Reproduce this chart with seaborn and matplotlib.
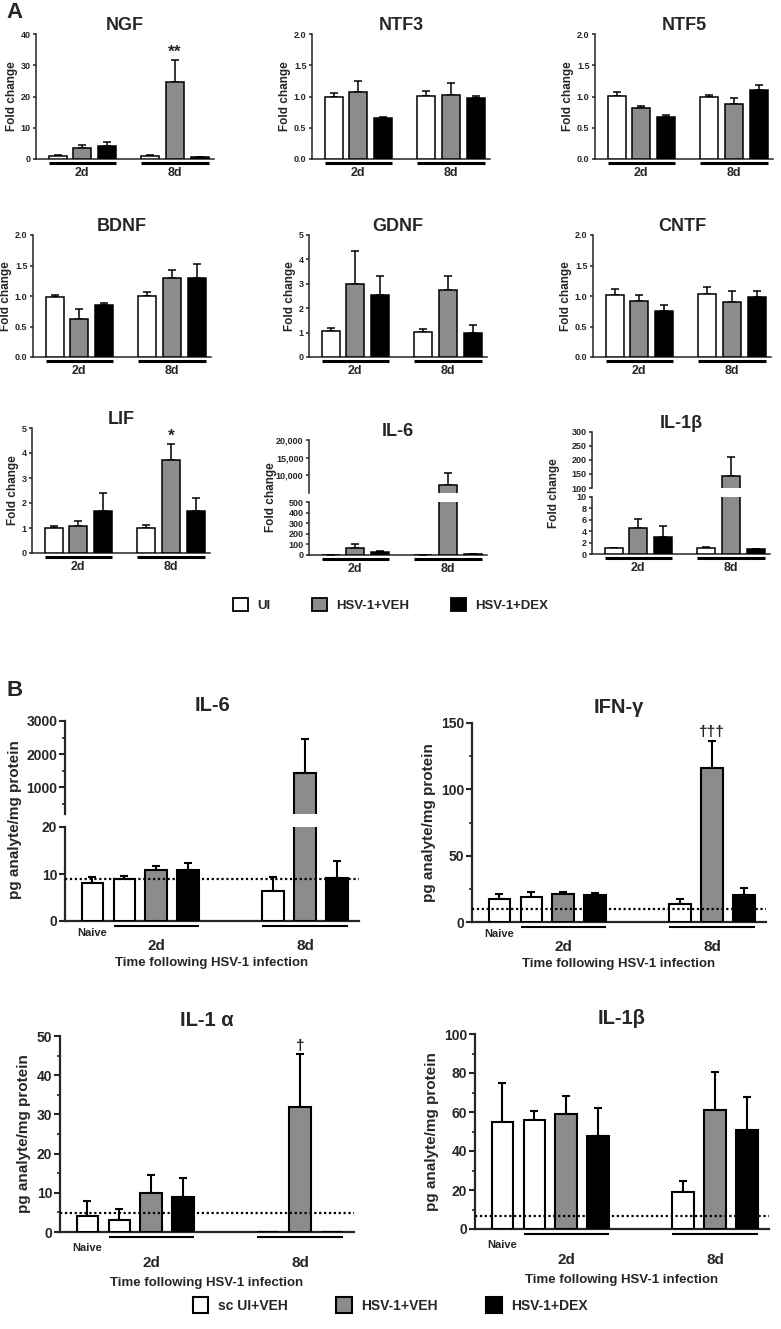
import numpy as np
import pandas as pd
import matplotlib
matplotlib.use('Agg')
import matplotlib.pyplot as plt
import matplotlib.transforms as mtransforms
from matplotlib.patches import Patch
from matplotlib import font_manager
import seaborn as sns

sns.set_style('ticks')
plt.rcParams['font.family'] = ['Liberation Sans', 'DejaVu Sans']
plt.rcParams['font.weight'] = 'bold'
names = {f.name for f in font_manager.fontManager.ttflist}
narrow = 'Liberation Sans Narrow' if 'Liberation Sans Narrow' in names else 'Liberation Sans'

# ---------------- data ----------------
# panel A, order: 2d UI, 2d VEH, 2d DEX, 8d UI, 8d VEH, 8d DEX
groups_a = ['UI', 'HSV-1+VEH', 'HSV-1+DEX']
days = ['2d', '8d']

ngf_mean = [1.1, 3.5, 4.3, 1.1, 24.8, 0.5]
ngf_sem = [0.15, 1.0, 1.3, 0.2, 6.9, 0.15]
ntf3_mean = [1.0, 1.08, 0.66, 1.01, 1.02, 0.97]
ntf3_sem = [0.06, 0.17, 0.01, 0.08, 0.19, 0.04]
ntf5_mean = [1.01, 0.82, 0.67, 1.0, 0.875, 1.10]
ntf5_sem = [0.07, 0.03, 0.04, 0.03, 0.095, 0.08]
bdnf_mean = [0.99, 0.63, 0.85, 1.0, 1.30, 1.29]
bdnf_sem = [0.03, 0.15, 0.03, 0.06, 0.12, 0.23]
gdnf_mean = [1.07, 3.0, 2.53, 1.04, 2.73, 1.0]
gdnf_sem = [0.13, 1.33, 0.8, 0.12, 0.6, 0.3]
cntf_mean = [1.02, 0.91, 0.76, 1.04, 0.9, 0.98]
cntf_sem = [0.1, 0.11, 0.1, 0.1, 0.19, 0.11]
lif_mean = [1.0, 1.1, 1.7, 1.02, 3.71, 1.68]
lif_sem = [0.07, 0.19, 0.69, 0.11, 0.64, 0.51]
il6a_mean = [1.0, 63, 25, 1.0, 7300, 5]
il6a_sem = [0.3, 37, 13, 0.3, 3500, 2]
il1ba_mean = [1.0, 4.5, 2.9, 1.1, 143, 0.8]
il1ba_sem = [0.1, 1.7, 2.0, 0.15, 68, 0.1]

# panel B, order: Naive, 2d UI, 2d VEH, 2d DEX, 8d UI, 8d VEH, 8d DEX
groups_b = ['sc UI+VEH', 'HSV-1+VEH', 'HSV-1+DEX']
b_group = ['sc UI+VEH', 'sc UI+VEH', 'HSV-1+VEH', 'HSV-1+DEX', 'sc UI+VEH', 'HSV-1+VEH', 'HSV-1+DEX']
b_day = ['Naive', '2d', '2d', '2d', '8d', '8d', '8d']

il6b_mean = [8.0, 8.9, 10.9, 10.9, 6.45, 1430, 9.1]
il6b_sem = [1.4, 0.7, 0.8, 1.4, 2.95, 1030, 3.7]
ifng_mean = [17.6, 19.1, 21.4, 20.6, 13.3, 115.8, 20.1]
ifng_sem = [3.3, 3.3, 1.2, 1.5, 4.3, 20.9, 5.3]
il1a_mean = [4.0, 3.0, 10.0, 8.9, 0, 31.9, 0]
il1a_sem = [3.9, 2.9, 4.5, 5.0, 0, 13.5, 0]
il1bb_mean = [54.7, 55.8, 58.8, 47.8, 19.2, 60.8, 50.8]
il1bb_sem = [20.0, 4.5, 9.5, 14.4, 5.3, 19.5, 17.0]
# detection limits (dotted lines)
il6b_lod = 9.0
ifng_lod = 9.5
il1a_lod = 4.8
il1bb_lod = 6.5

# ---------------- layout ----------------
colors = ['white', '#8c8c8c', 'black']
b_slot = [0, 1, 2, 3, 5.66, 6.66, 7.66]

W, H = 781, 1329
fig = plt.figure(figsize=(W / 100, H / 100), dpi=100)


def rect(l, t, r, b):
    return [l / W, 1 - b / H, (r - l) / W, (b - t) / H]


def add_errors(ax, xs, tops, errs, lw, cap):
    for x, m, e in zip(xs, tops, errs):
        if e > 0:
            ax.errorbar(x, m, yerr=[[0], [e]], color='black', lw=lw, capsize=cap,
                        capthick=lw, zorder=2)


def underline(ax, spans, dy, lw):
    trans = mtransforms.blended_transform_factory(ax.transData, ax.transAxes)
    y = -dy / ax.bbox.height
    for l, r in spans:
        ax.plot([l, r], [y, y], color='black', lw=lw, transform=trans, clip_on=False,
                solid_capstyle='butt')


def bars_a(ax, mean, sem):
    df = pd.DataFrame({'day': np.repeat(days, 3), 'grp': groups_a * 2, 'val': mean, 'err': sem})
    sns.barplot(data=df, x='day', y='val', hue='grp', hue_order=groups_a, palette=colors,
                width=0.8, gap=0.28, edgecolor='black', linewidth=1.1, errorbar=None,
                legend=False, ax=ax, zorder=3)
    centers = {}
    for cont, g in zip(ax.containers, groups_a):
        sub = df[df.grp == g]
        xs = [b.get_x() + b.get_width() / 2 for b in cont]
        add_errors(ax, xs, sub.val, sub.err, 1.1, 2.8)
        for b, d in zip(cont, sub.day):
            centers.setdefault(d, []).append((b.get_x(), b.get_x() + b.get_width()))
            centers[(d, g)] = (b.get_x() + b.get_width() / 2, b.get_height())
    ax.set_xlim(-0.5, 1.42)
    ax.set_xlabel('')
    ax.set_ylabel('')
    sns.despine(ax=ax)
    for s in ax.spines.values():
        s.set_linewidth(1.1)
    ax.tick_params(axis='y', length=2.5, width=1.1, pad=1.5, labelsize=6.5)
    ax.tick_params(axis='x', length=0, pad=6, labelsize=9)
    spans = [(min(a for a, b in centers[d]), max(b for a, b in centers[d])) for d in days]
    return centers, spans


def a_panel(l, t, b, title, mean, sem, ylim, ticks, mark=None):
    ax = fig.add_axes(rect(l, t, l + 178, b))
    centers, spans = bars_a(ax, mean, sem)
    ax.set_ylim(ylim)
    ax.set_yticks(ticks)
    if isinstance(ticks[1], float):
        ax.set_yticklabels(['%.1f' % v for v in ticks])
    ax.set_title(title, fontsize=13, fontweight='bold', pad=3)
    ax.set_ylabel('Fold change', fontsize=8.5, fontweight='bold', labelpad=2)
    underline(ax, spans, 3.5, 2.2)
    if mark:
        x, h = centers[('8d', 'HSV-1+VEH')]
        top = h + sem[4]
        ax.annotate(mark, (x, top), xytext=(0, 0), textcoords='offset points',
                    ha='center', va='bottom', fontsize=12.5, fontweight='bold')
    return ax


def a_broken(l, tt, bt, tb, bb, title, mean, sem, ylim_t, ticks_t, lab_t, ylim_b, ticks_b, lab_b):
    ax_t = fig.add_axes(rect(l, tt, l + 178, bt))
    ax_b = fig.add_axes(rect(l, tb, l + 178, bb))
    bars_a(ax_t, mean, sem)
    centers, spans = bars_a(ax_b, mean, sem)
    ax_t.spines['bottom'].set_visible(False)
    ax_t.set_xticks([])
    ax_t.set_ylim(ylim_t)
    ax_t.set_yticks(ticks_t, lab_t)
    ax_b.set_ylim(ylim_b)
    ax_b.set_yticks(ticks_b, lab_b)
    ax_t.set_title(title, fontsize=13, fontweight='bold', pad=3)
    underline(ax_b, spans, 3.5, 2.2)
    fig.text((l - 38) / W, 1 - ((tt + bb) / 2) / H, 'Fold change', rotation=90,
             ha='center', va='center', fontsize=8.5, fontweight='bold')
    return ax_t, ax_b


# ---------------- panel A ----------------
fig.text(6 / W, 1 - 12 / H, 'A', fontsize=16, fontweight='bold', va='center')

a_panel(36, 34, 159, 'NGF', ngf_mean, ngf_sem, (0, 40), [0, 10, 20, 30, 40], mark='**')
a_panel(312, 34, 159, 'NTF3', ntf3_mean, ntf3_sem, (0, 2), [0.0, 0.5, 1.0, 1.5, 2.0])
a_panel(595, 34, 159, 'NTF5', ntf5_mean, ntf5_sem, (0, 2), [0.0, 0.5, 1.0, 1.5, 2.0])

a_panel(33, 235, 357, 'BDNF', bdnf_mean, bdnf_sem, (0, 2), [0.0, 0.5, 1.0, 1.5, 2.0])
a_panel(309, 235, 357, 'GDNF', gdnf_mean, gdnf_sem, (0, 5), [0, 1, 2, 3, 4, 5])
a_panel(593, 235, 357, 'CNTF', cntf_mean, cntf_sem, (0, 2), [0.0, 0.5, 1.0, 1.5, 2.0])

a_panel(32, 428, 553, 'LIF', lif_mean, lif_sem, (0, 5), [0, 1, 2, 3, 4, 5], mark='*')
a_broken(309, 440, 493, 502, 555, 'IL-6', il6a_mean, il6a_sem,
         (5000, 20000), [10000, 15000, 20000], ['10,000', '15,000', '20,000'],
         (0, 500), [0, 100, 200, 300, 400, 500], ['0', '100', '200', '300', '400', '500'])
a_broken(592, 432, 488, 497, 554, 'IL-1\u03b2', il1ba_mean, il1ba_sem,
         (100, 300), [100, 150, 200, 250, 300], ['100', '150', '200', '250', '300'],
         (0, 10), [0, 2, 4, 6, 8, 10], ['0', '2', '4', '6', '8', '10'])

fig.legend(handles=[Patch(facecolor=c, edgecolor='black', lw=1.3) for c in colors],
           labels=groups_a, loc='center', bbox_to_anchor=(0.5, 1 - 605 / H), ncol=3,
           frameon=False, handlelength=1.1, handleheight=1.1, columnspacing=3.2,
           handletextpad=0.7, prop=dict(weight='bold', size=9.5))

# ---------------- panel B ----------------
fig.text(6 / W, 1 - 690 / H, 'B', fontsize=16, fontweight='bold', va='center')


def bars_b(ax, mean, sem):
    df = pd.DataFrame({'slot': b_slot, 'grp': b_group, 'day': b_day, 'val': mean, 'err': sem})
    sns.barplot(data=df, x='slot', y='val', hue='grp', hue_order=groups_b, palette=colors,
                native_scale=True, dodge=False, width=0.68, edgecolor='black', linewidth=1.5,
                errorbar=None, legend=False, ax=ax, zorder=3)
    slots = np.array(b_slot)
    spans = {}
    centers = {}
    for p in ax.patches:
        x = p.get_x() + p.get_width() / 2
        i = int(np.argmin(np.abs(slots - x)))
        add_errors(ax, [x], [mean[i]], [sem[i]], 1.5, 3.2)
        d = b_day[i]
        spans.setdefault(d, []).append((p.get_x(), p.get_x() + p.get_width()))
        centers.setdefault(d, []).append(x)
        centers[i] = (x, mean[i])
    ax.set_xlim(-0.86, 8.35)
    ax.set_xlabel('')
    ax.set_ylabel('')
    sns.despine(ax=ax)
    for s in ax.spines.values():
        s.set_linewidth(1.6)
    ax.tick_params(axis='y', which='major', length=4, width=1.5, pad=1.5, labelsize=10)
    ax.tick_params(axis='y', which='minor', length=2.5, width=1.2)
    ax.tick_params(axis='x', length=0, pad=13, labelsize=11)
    return centers, spans


def b_decor(ax, centers, spans, lod, font, gap=0):
    ax.axhline(lod, color='black', ls=(0, (1, 1.2)), lw=1.6, zorder=5)
    sp = [(min(a for a, b in spans[d]), max(b for a, b in spans[d])) for d in ['2d', '8d']]
    underline(ax, sp, 5, 1.5)
    ax.set_xticks([np.mean(centers['2d']), np.mean(centers['8d'])], ['2d', '8d'])
    ax.tick_params(axis='x', pad=13 + gap)
    for t in ax.get_xticklabels():
        t.set_fontfamily(font)
    trans = mtransforms.blended_transform_factory(ax.transData, ax.transAxes)
    ax.text(centers['Naive'][0], -(12 + gap) / ax.bbox.height, 'Naive', transform=trans,
            ha='center', va='center', fontsize=8, fontweight='bold', family=font)
    ax.set_xlabel('Time following HSV-1 infection', fontsize=9.5, fontweight='bold',
                  labelpad=3 + gap / 2, family=font)


def b_panel(l, t, b, title, mean, sem, ylim, ticks, minor, lod, font, mark=None, gap=0):
    ax = fig.add_axes(rect(l, t, l + 294, b))
    centers, spans = bars_b(ax, mean, sem)
    ax.set_ylim(ylim)
    ax.set_yticks(ticks)
    ax.set_yticks(minor, minor=True)
    for t_ in ax.get_yticklabels():
        t_.set_fontfamily(font)
    ax.set_title(title, fontsize=14.5, fontweight='bold', pad=7, family=font)
    ax.set_ylabel('pg analyte/mg protein', fontsize=11, fontweight='bold', labelpad=4,
                  family=font)
    b_decor(ax, centers, spans, lod, font, gap)
    if mark:
        x, h = centers[5]
        ax.annotate(mark, (x, h + sem[5]), xytext=(0, 1), textcoords='offset points',
                    ha='center', va='bottom', fontsize=11, fontweight='bold')
    return ax


# IL-6 (broken axis)
ax_t = fig.add_axes(rect(65, 721, 359, 814))
ax_b = fig.add_axes(rect(65, 827, 359, 921))
bars_b(ax_t, il6b_mean, il6b_sem)
centers, spans = bars_b(ax_b, il6b_mean, il6b_sem)
ax_t.spines['bottom'].set_visible(False)
ax_t.set_xticks([])
ax_t.set_ylim(200, 3000)
ax_t.set_yticks([1000, 2000, 3000])
ax_t.set_yticks([500, 1500, 2500], minor=True)
ax_t.set_title('IL-6', fontsize=14.5, fontweight='bold', pad=7)
ax_b.set_ylim(0, 20)
ax_b.set_yticks([0, 10, 20])
b_decor(ax_b, centers, spans, il6b_lod, 'Liberation Sans')
fig.text(15 / W, 1 - 820 / H, 'pg analyte/mg protein', rotation=90, ha='center',
         va='center', fontsize=11, fontweight='bold')

b_panel(472, 723, 922, 'IFN-\u03b3', ifng_mean, ifng_sem, (0, 150), [0, 50, 100, 150],
        [25, 75, 125], ifng_lod, 'Liberation Sans', mark='\u2020\u2020\u2020')

b_panel(60, 1036, 1232, 'IL-1 \u03b1', il1a_mean, il1a_sem, (0, 50), [0, 10, 20, 30, 40, 50],
        [5, 15, 25, 35, 45], il1a_lod, narrow, mark='\u2020', gap=4)
b_panel(475, 1034, 1229, 'IL-1\u03b2', il1bb_mean, il1bb_sem, (0, 100), [0, 20, 40, 60, 80, 100],
        [10, 30, 50, 70, 90], il1bb_lod, narrow, gap=4)

fig.legend(handles=[Patch(facecolor=c, edgecolor='black', lw=1.5) for c in colors],
           labels=groups_b, loc='center', bbox_to_anchor=(0.5, 1 - 1305 / H), ncol=3,
           frameon=False, handlelength=1.1, handleheight=1.3, columnspacing=3.5,
           handletextpad=0.7, prop=dict(weight='bold', size=10, family=narrow))

fig.savefig('out.png', dpi=100)
